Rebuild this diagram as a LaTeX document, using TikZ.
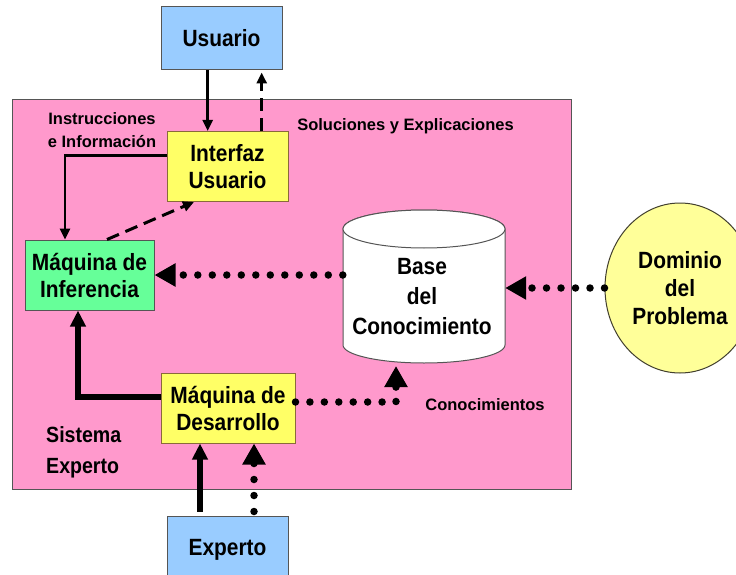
\documentclass[tikz,border=0pt]{standalone}
\usepackage{fontspec}
\setmainfont{Liberation Sans}
\newfontfamily\tallfont[FakeStretch=0.89]{Liberation Sans}
\usetikzlibrary{arrows.meta,shapes.geometric}
\definecolor{pinkbg}{HTML}{FF99CC}
\definecolor{bluebox}{HTML}{99CCFF}
\definecolor{yellowbox}{HTML}{FFFF66}
\definecolor{greenbox}{HTML}{66FF99}
\definecolor{domfill}{HTML}{FFFF99}
\definecolor{edgegray}{HTML}{555555}
\definecolor{edgebrown}{HTML}{8A6A3A}
\begin{document}
\begin{tikzpicture}[x=1pt,y=-1pt,
  nodefont/.style={font=\tallfont\bfseries\fontsize{23.5}{#1}\selectfont},
  boxbase/.style={draw, line width=1pt, inner sep=0pt, align=center, nodefont=27},
  bluenode/.style={boxbase, fill=bluebox, draw=edgegray},
  yellownode/.style={boxbase, fill=yellowbox, draw=edgebrown},
  greennode/.style={boxbase, fill=greenbox, draw=edgegray},
  lbl/.style={inner sep=0pt, align=center, font=\bfseries\fontsize{16.5}{23}\selectfont},
  thinarr/.style={line width=2.5pt, -{Triangle[length=11pt,width=10pt]}},
  thickarr/.style={line width=5.5pt, -{Triangle[length=16pt,width=15pt]}},
  dasharr/.style={line width=3pt, dash pattern=on 13pt off 7pt, -{Triangle[length=11pt,width=10pt]}},
  dotarr/.style={line width=7.5pt, line cap=round, dash pattern=on 0pt off 14.5pt, -{Triangle[length=21pt,width=22pt]}}
]
\clip (0,0) rectangle (736,575);
\fill[white] (0,0) rectangle (736,575);

% system box
\filldraw[fill=pinkbg, draw=edgegray, line width=1pt] (12,100) rectangle (571,489);

% cylinder (knowledge base)
\filldraw[fill=white, draw=edgegray, line width=1pt]
  (343,229) -- (343,345) arc[start angle=180, end angle=360, x radius=81pt, y radius=18pt]
  -- (505,229) arc[start angle=0, end angle=180, x radius=81pt, y radius=19pt] -- cycle;
\filldraw[fill=white, draw=edgegray, line width=1pt] (424,229) ellipse[x radius=81pt, y radius=19pt];
\node[inner sep=0pt, minimum width=162pt, minimum height=153pt] (base) at (424,286.5) {};
\node[inner sep=0pt, align=center, nodefont=30] (basetxt) at (422,297) {Base\\del\\Conocimiento};

% nodes
\node[bluenode, minimum width=121pt, minimum height=63pt] (usr) at (221.5,38.5) {Usuario};
\node[yellownode, minimum width=121pt, minimum height=70pt] (intf) at (227.5,166.5) {Interfaz\\Usuario};
\node[greennode, minimum width=129pt, minimum height=70pt] (inf) at (89.5,275) {Máquina de\\Inferencia};
\node[yellownode, minimum width=134pt, minimum height=70pt] (des) at (228,408) {Máquina de\\Desarrollo};
\node[bluenode, minimum width=121pt, minimum height=68pt] (exp) at (227.5,550) {Experto};
\node[ellipse, draw=black!70!olive, line width=1pt, fill=domfill, minimum width=150pt, minimum height=170pt,
  inner sep=0pt, align=center, nodefont=28] (dom) at (680,288) {Dominio\\del\\Problema};

% labels
\node[lbl] (linst) at (102,130) {Instrucciones\\e Información};
\node[lbl] (lsol) at (405.5,126) {Soluciones y Explicaciones};
\node[lbl] (lcon) at (485,405) {Conocimientos};
\node[inner sep=0pt, align=left, anchor=west, font=\tallfont\bfseries\fontsize{22}{31}\selectfont] (lsis) at (46,452) {Sistema\\Experto};

% helper coordinates
\coordinate (xa) at (207.7,0);
\coordinate (xb) at (261.7,0);
\coordinate (k1) at (65,155.5);
\coordinate (k2) at (107,0);
\coordinate (k3) at (194,0);
\coordinate (k5) at (78,397);
\coordinate (k6) at (396,366);
\coordinate (k7) at (200,0);
\coordinate (k8) at (254,0);

% connectors
\draw[thinarr] (usr.south -| xa) -- (intf.north -| xa);
\draw[dasharr, shorten >=2pt] (intf.north -| xb) -- (usr.south -| xb);
\draw[thinarr] (intf.west |- k1) -| (inf.north -| k1);
\draw[dasharr] (inf.north -| k2) -- (intf.south -| k3);
\draw[dotarr] (base.west |- inf.east) -- (inf.east);
\draw[dotarr] (dom.west) -- (dom.west -| base.east);
\draw[thickarr] (des.west |- k5) -| (inf.south -| k5);
\draw[dotarr, dash pattern=on 0pt off 14.43pt] ([yshift=6pt]des.east) -| (k6);
\draw[thickarr, shorten <=4pt] (exp.north -| k7) -- (des.south -| k7);
\draw[dotarr, dash pattern=on 0pt off 16pt, shorten <=4pt] (exp.north -| k8) -- (des.south -| k8);
\end{tikzpicture}
\end{document}
